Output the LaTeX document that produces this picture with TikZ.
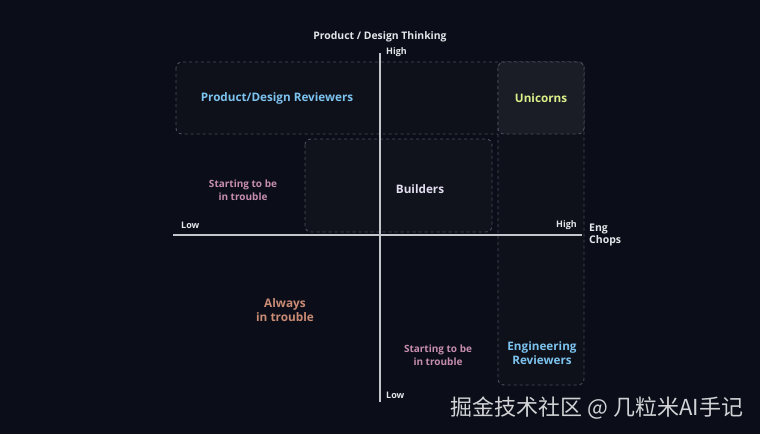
\documentclass[tikz,border=0pt]{standalone}
\usepackage{fontspec}
\setmainfont{Open Sans}
\newfontfamily\cjk{Noto Sans CJK SC}
\usetikzlibrary{positioning}
\definecolor{bgnavy}{HTML}{0B0E18}
\definecolor{axisgray}{HTML}{C4C6CC}
\definecolor{dashgray}{HTML}{4A4F5B}
\definecolor{boxfill}{HTML}{0E1119}
\definecolor{buildfill}{HTML}{11131C}
\definecolor{unifill}{HTML}{1A1D26}
\definecolor{labwhite}{HTML}{E4E5EA}
\definecolor{revblue}{HTML}{7DC3EF}
\definecolor{uniyellow}{HTML}{DDF08A}
\definecolor{troublepink}{HTML}{C68DB0}
\definecolor{troubleorange}{HTML}{C98B74}
\definecolor{buildlav}{HTML}{E2DDF0}
\definecolor{markgray}{HTML}{D2D3D6}

\begin{document}
\begin{tikzpicture}[x=1pt,y=-1pt]
      \tikzstyle{zone} = [draw=dashgray, dashed, rounded corners=6pt, fill=boxfill, line width=0.9pt]
      \tikzstyle{axis} = [draw=axisgray, line width=1.2pt]
      \tikzstyle{tick} = [text=labwhite, font=\bfseries\fontsize{9}{10}\selectfont, inner sep=0pt]
      \tikzstyle{group} = [font=\bfseries\fontsize{11.7}{14}\selectfont, align=center, inner sep=0pt]

      \fill[bgnavy] (0,0) rectangle (760,434);
      \useasboundingbox (0,0) rectangle (760,434);

      % zones
      \filldraw[zone] (176,62) rectangle (584,134);
      \filldraw[zone] (498,62) rectangle (584,385);
      \filldraw[zone, fill=unifill] (498,62) rectangle (584,134);
      \filldraw[zone, fill=buildfill] (305,139) rectangle (492,232);

      % axes
      \coordinate (ytop) at (380,53);
      \coordinate (ybot) at (380,402);
      \coordinate (xleft) at (173,235);
      \coordinate (xright) at (582,235);
      \draw[axis] (ytop) -- (ybot);
      \draw[axis] (xleft) -- (xright);

      \node[tick, font=\bfseries\fontsize{10.4}{12}\selectfont] (ytitle) at (380,37) {Product / Design Thinking};
      \node[tick, anchor=west] (yhigh) at (386,52) {High};
      \node[tick, anchor=west] (ylow) at (386,395) {Low};
      \node[tick, anchor=west] (xlow) at (181,225) {Low};
      \node[tick, anchor=east] (xhigh) at (577,225) {High};
      \node[tick, anchor=west, align=left, font=\bfseries\fontsize{10.5}{12}\selectfont] (xtitle) at (589,235) {Eng\\Chops};

      % groups
      \node[group, text=revblue] (pdrev) at (277,98) {Product/Design Reviewers};
      \node[group, text=uniyellow] (unicorns) at (541,98) {Unicorns};
      \node[group, text=buildlav] (builders) at (420,189) {Builders};
      \node[group, text=troublepink, font=\bfseries\fontsize{10}{12.5}\selectfont] (trouble1) at (243,190) {Starting to be\\in trouble};
      \node[group, text=troubleorange, font=\bfseries\fontsize{11.8}{14}\selectfont] (always) at (285,310) {Always\\in trouble};
      \node[group, text=troublepink, font=\bfseries\fontsize{10}{12.5}\selectfont] (trouble2) at (438,355) {Starting to be\\in trouble};
      \node[group, text=revblue, font=\bfseries\fontsize{11.7}{13.5}\selectfont] (engrev) at (542,353) {Engineering\\Reviewers};

      \node[text=markgray, font=\cjk\fontsize{22}{24}\selectfont, inner sep=0pt] (mark) at (597,408) {掘金技术社区 @ 几粒米AI手记};
    \end{tikzpicture}
\end{document}
